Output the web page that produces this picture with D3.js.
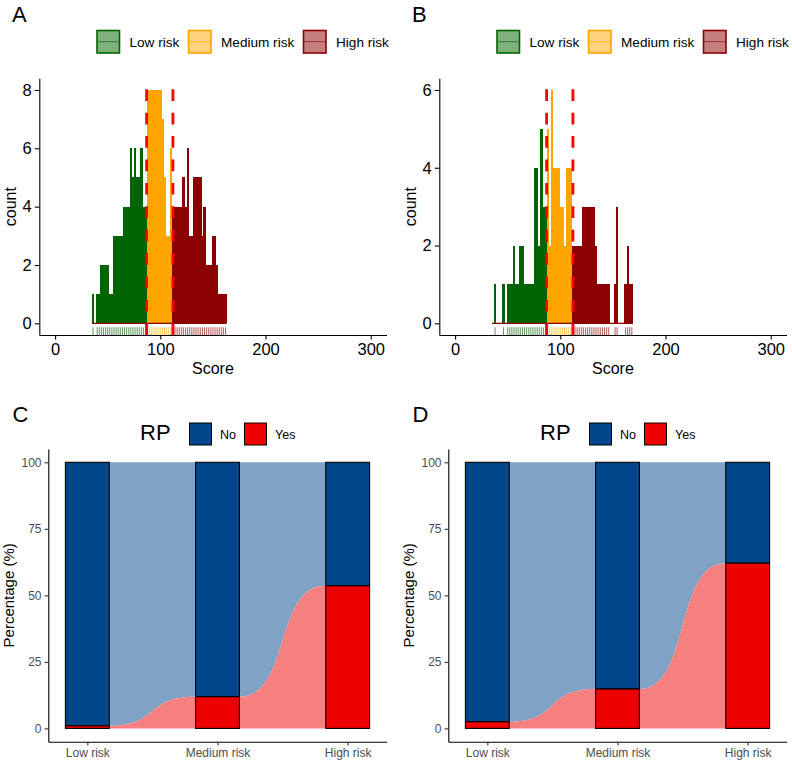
<!DOCTYPE html>
<html><head><meta charset="utf-8">
<script src="https://cdn.jsdelivr.net/npm/d3@7"></script>
<style>
body{margin:0;background:#fff;}
svg{display:block;font-family:"Liberation Sans",Arial,Helvetica,sans-serif;}
</style>
</head><body>
<svg id="chart" width="792" height="763"></svg>
<script>
// ---------- data ----------
const riskGroups = ["Low risk", "Medium risk", "High risk"];
const riskColors = ["#006400", "#FFA500", "#8B0000"];
const binWidth = 2;
const scoreTicks = [0, 100, 200, 300];
const cutoffs = [87, 112];

// Panel A histogram (counts per 2-point bin)
const aLowStart = 35;
const aLowCounts = [1,0,1,1,2,2,2,2,1,1,3,3,3,3,3,4,4,4,6,5,6,5,5,6,4,4];
const aMedStart = 87;
const aMedCounts = [8,8,8,8,8,8,8,7,5,3,3,6];
const aHighStart = 111;
const aHighCounts = [4,4,4,4,4,5,4,6,3,3,5,5,5,5,3,4,2,2,2,3,3,2,1,1,1,1];
const aCountTicks = [0, 2, 4, 6, 8];

// Panel B histogram
const bLowStart = 35;
const bLowCounts = [0,1,0,0,0,1,0,1,1,1,2,1,1,2,2,1,1,1,1,1,4,4,2,5,3,3];
const bMedStart = 87;
const bMedCounts = [5,2,6,4,4,4,3,3,2,4,4,4];
const bHighStart = 111;
const bHighCounts = [2,2,2,2,2,3,3,3,3,3,3,2,1,1,1,1,1,1,0,0,1,3,0,0,0,1,2,1,1];
const bCountTicks = [0, 2, 4, 6];

// Panels C / D: percentage of RP = Yes per risk group
const rpLevels = ["No", "Yes"];
const rpColors = ["#00468B", "#ED0000"];
const rpFlowColors = ["#7FA2C5", "#F67F7F"];
const cYesPct = [1.0, 11.9, 53.6];
const dYesPct = [2.5, 14.8, 62.1];
const pctTicks = [0, 25, 50, 75, 100];

// ---------- drawing ----------
const svg = d3.select("#chart");
const FONT = '"Liberation Sans",Arial,Helvetica,sans-serif';

function panelLabel(txt, x, y) {
  svg.append("text").attr("x", x).attr("y", y).text(txt)
    .attr("font-size", 22).attr("fill", "#000");
}

function drawHist(dx, series, countTicks, countMax) {
  const L = dx + 39.3, R = dx + 386.5, T = 78.3, B = 335;
  const x = d3.scaleLinear().domain([-15, 315]).range([L, R]);
  const y = d3.scaleLinear().domain([-0.05 * countMax, 1.05 * countMax]).range([B, T]);
  const g = svg.append("g");

  // bars
  series.forEach(s => {
    g.append("g").attr("shape-rendering", "crispEdges")
      .selectAll("rect").data(s.counts.map((c, i) => ({c, x0: s.start + i * binWidth})).filter(d => d.c > 0))
      .join("rect")
      .attr("x", d => x(d.x0))
      .attr("width", d => x(d.x0 + binWidth) - x(d.x0) + 0.3)
      .attr("y", d => y(d.c))
      .attr("height", d => y(0) - y(d.c))
      .attr("fill", s.color);
  });
  // zero baseline
  const first = series[0].start;
  const last = series[series.length - 1];
  const lastEnd = last.start + last.counts.length * binWidth;
  g.append("line").attr("x1", x(first)).attr("x2", x(lastEnd))
    .attr("y1", y(0)).attr("y2", y(0)).attr("stroke", "#8B0000").attr("stroke-width", 1.3);
  // rug
  series.forEach(s => {
    g.append("g").selectAll("line").data(s.counts.map((c, i) => ({c, xc: s.start + (i + 0.5) * binWidth})).filter(d => d.c > 0))
      .join("line")
      .attr("x1", d => x(d.xc)).attr("x2", d => x(d.xc))
      .attr("y1", B).attr("y2", B - 0.03 * (B - T))
      .attr("stroke", s.color).attr("stroke-opacity", 0.6).attr("stroke-width", 1.1);
  });
  // cutoff lines
  cutoffs.forEach(c => {
    g.append("path").attr("d", `M${x(c)},${B}L${x(c)},${T}`)
      .attr("stroke", "#FF0000").attr("stroke-width", 2.8)
      .attr("stroke-dasharray", "11.7,11.7").attr("fill", "none");
  });

  // axes
  const ax = g.append("g").attr("transform", `translate(0,${B})`)
    .call(d3.axisBottom(x).tickValues(scoreTicks).tickFormat(d3.format("d")).tickSize(4.5).tickSizeOuter(0).tickPadding(4));
  const ay = g.append("g").attr("transform", `translate(${L},0)`)
    .call(d3.axisLeft(y).tickValues(countTicks).tickFormat(d3.format("d")).tickSize(4.5).tickSizeOuter(0).tickPadding(3));
  [ax, ay].forEach(a => {
    a.select(".domain").attr("stroke", "#000").attr("stroke-width", 1.1);
    a.selectAll(".tick line").attr("stroke", "#000").attr("stroke-width", 1.1);
    a.selectAll("text").attr("font-size", 16.5).attr("fill", "#000").attr("font-family", FONT);
  });
  g.append("text").attr("x", (L + R) / 2).attr("y", 374).attr("text-anchor", "middle")
    .attr("font-size", 16).text("Score");
  g.append("text").attr("transform", `translate(${dx + 15.5},${(T + B) / 2}) rotate(-90)`)
    .attr("text-anchor", "middle").attr("font-size", 16).text("count");

  // legend
  const keyX = [dx + 97, dx + 188.5, dx + 303.5];
  riskGroups.forEach((name, i) => {
    const lg = g.append("g");
    lg.append("rect").attr("x", keyX[i]).attr("y", 30.5).attr("width", 22.5).attr("height", 22.5)
      .attr("fill", riskColors[i]).attr("fill-opacity", 0.5)
      .attr("stroke", riskColors[i]).attr("stroke-width", 1.6);
    lg.append("line").attr("x1", keyX[i]).attr("x2", keyX[i] + 22.5)
      .attr("y1", 41.7).attr("y2", 41.7).attr("stroke", riskColors[i]).attr("stroke-opacity", 0.6).attr("stroke-width", 1);
    lg.append("text").attr("x", keyX[i] + 32.5).attr("y", 46.5).attr("font-size", 13.6)
      .attr("fill", "#000").text(name);
  });
}

function drawAlluvial(dx, yesPct) {
  const L = dx + 48.3, R = dx + 386.7, T = 449, B = 741.7;
  const x = d3.scalePoint().domain(riskGroups).range([L, R]).padding(0.3);
  const y = d3.scaleLinear().domain([-5, 105]).range([B, T]);
  const bw = 0.337 * x.step();
  const g = svg.append("g");

  // flows
  for (let i = 0; i < riskGroups.length - 1; i++) {
    const x0 = x(riskGroups[i]) + bw / 2, x1 = x(riskGroups[i + 1]) - bw / 2;
    const k = 0.6 * (x1 - x0);
    const y0 = y(yesPct[i]), y1 = y(yesPct[i + 1]);
    const curve = `M${x0},${y0}C${x0 + k},${y0} ${x1 - k},${y1} ${x1},${y1}`;
    const curveBack = `L${x1},${y1}C${x1 - k},${y1} ${x0 + k},${y0} ${x0},${y0}`;
    g.append("path")
      .attr("d", `M${x0},${y(100)}L${x1},${y(100)}` + curveBack + "Z")
      .attr("fill", rpFlowColors[0]);
    g.append("path")
      .attr("d", curve + `L${x1},${y(0)}L${x0},${y(0)}Z`)
      .attr("fill", rpFlowColors[1]);
  }
  // bars
  riskGroups.forEach((r, i) => {
    const cx = x(r);
    g.append("rect").attr("x", cx - bw / 2).attr("width", bw)
      .attr("y", y(100)).attr("height", y(yesPct[i]) - y(100))
      .attr("fill", rpColors[0]).attr("stroke", "#000").attr("stroke-width", 1.1);
    g.append("rect").attr("x", cx - bw / 2).attr("width", bw)
      .attr("y", y(yesPct[i])).attr("height", y(0) - y(yesPct[i]))
      .attr("fill", rpColors[1]).attr("stroke", "#000").attr("stroke-width", 1.1);
  });

  // axes
  const ax = g.append("g").attr("transform", `translate(0,${B})`)
    .call(d3.axisBottom(x).tickSize(3.8).tickSizeOuter(0).tickPadding(3));
  const ay = g.append("g").attr("transform", `translate(${L},0)`)
    .call(d3.axisLeft(y).tickValues(pctTicks).tickFormat(d3.format("d")).tickSize(3.8).tickSizeOuter(0).tickPadding(3));
  [ax, ay].forEach(a => {
    a.select(".domain").attr("stroke", "#000").attr("stroke-width", 1.1);
    a.selectAll(".tick line").attr("stroke", "#333").attr("stroke-width", 1.1);
    a.selectAll("text").attr("font-size", 12).attr("fill", "#4D4D4D").attr("font-family", FONT);
  });
  g.append("text").attr("transform", `translate(${dx + 13.5},${(T + B) / 2}) rotate(-90)`)
    .attr("text-anchor", "middle").attr("font-size", 15).text("Percentage (%)");

  // legend
  g.append("text").attr("x", dx + 140).attr("y", 440).attr("font-size", 22).text("RP");
  const keyX = [dx + 189.5, dx + 244.5];
  rpLevels.forEach((lv, i) => {
    g.append("rect").attr("x", keyX[i]).attr("y", 423).attr("width", 22).attr("height", 22)
      .attr("fill", rpColors[i]).attr("stroke", "#000").attr("stroke-width", 1);
    g.append("text").attr("x", keyX[i] + 30.5).attr("y", 438.5).attr("font-size", 12.5)
      .attr("fill", "#000").text(lv);
  });
}

drawHist(0, [
  {start: aLowStart, counts: aLowCounts, color: riskColors[0]},
  {start: aMedStart, counts: aMedCounts, color: riskColors[1]},
  {start: aHighStart, counts: aHighCounts, color: riskColors[2]}
], aCountTicks, 8);
drawHist(400, [
  {start: bLowStart, counts: bLowCounts, color: riskColors[0]},
  {start: bMedStart, counts: bMedCounts, color: riskColors[1]},
  {start: bHighStart, counts: bHighCounts, color: riskColors[2]}
], bCountTicks, 6);
drawAlluvial(0, cYesPct);
drawAlluvial(400, dYesPct);

panelLabel("A", 12, 21.7);
panelLabel("B", 412, 21.7);
panelLabel("C", 12.5, 422);
panelLabel("D", 412.5, 422);
</script>
</body></html>
